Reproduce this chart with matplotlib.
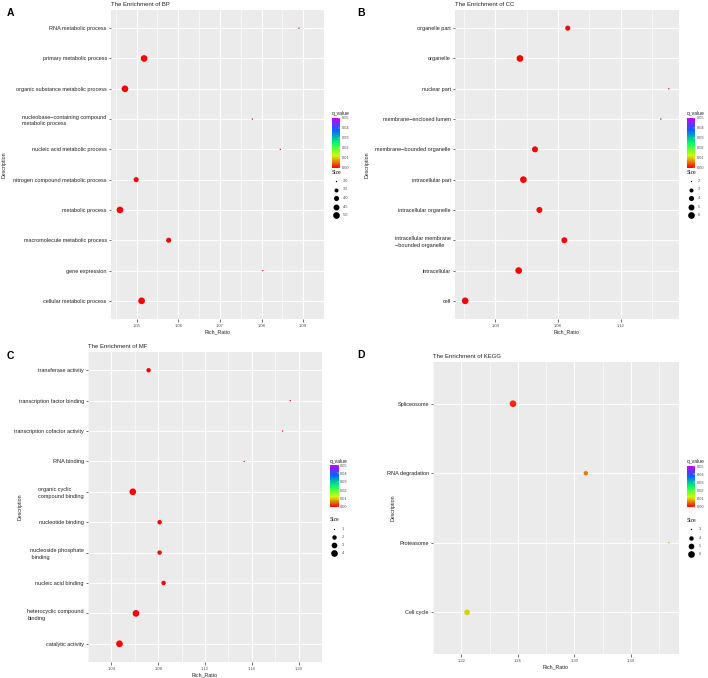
import numpy as np
import matplotlib
matplotlib.use("Agg")
import matplotlib.pyplot as plt
from matplotlib.colors import LinearSegmentedColormap, Normalize
from matplotlib.colorbar import ColorbarBase

plt.rcParams['font.family'] = ['Liberation Sans', 'DejaVu Sans']

# ---------------- data ----------------
bp_terms = ["RNA metabolic process", "primary metabolic process",
            "organic substance metabolic process",
            "nucleobase\u2212containing compound\nmetabolic process",
            "nucleic acid metabolic process", "nitrogen compound metabolic process",
            "metabolic process", "macromolecule metabolic process",
            "gene expression", "cellular metabolic process"]
bp_ratio = [1.0890, 1.0518, 1.0472, 1.0778, 1.0845, 1.0499, 1.0460, 1.0577, 1.0803, 1.0512]
bp_size = [3, 5, 5, 3, 3, 4, 5, 4, 3, 5]
bp_q = [0.0004, 0.0, 0.0, 0.0004, 0.0004, 0.0, 0.0, 0.0, 0.0004, 0.0]

cc_terms = ["organelle part", "organelle", "nuclear part", "membrane\u2212enclosed lumen",
            "membrane\u2212bounded organelle", "intracellular part",
            "intracellular organelle", "intracellular membrane\n\u2212bounded organelle",
            "intracellular", "cell"]
cc_ratio = [1.0862, 1.0557, 1.1506, 1.1455, 1.0653, 1.0579, 1.0681, 1.0840, 1.0549, 1.0208]
cc_size = [4, 6, 2, 2, 5, 6, 5, 5, 6, 6]
cc_q = [0.0, 0.0, 0.0004, 0.0004, 0.0, 0.0, 0.0, 0.0, 0.0, 0.0]

mf_terms = ["transferase activity", "transcription factor binding",
            "transcription cofactor activity", "RNA binding",
            "organic cyclic\ncompound binding", "nucleotide binding",
            "nucleoside phosphate\n binding", "nucleic acid binding",
            "heterocyclic compound\nbinding", "catalytic activity"]
mf_ratio = [1.0718, 1.1929, 1.1863, 1.1535, 1.0583, 1.0812, 1.0812, 1.0846, 1.0610, 1.0469]
mf_size = [2, 1, 1, 1, 4, 2, 2, 2, 4, 4]
mf_q = [0.0, 0.0004, 0.0004, 0.0008, 0.0, 0.0, 0.0, 0.0, 0.0, 0.0]

kegg_terms = ["Spliceosome", "RNA degradation", "Proteasome", "Cell cycle"]
kegg_ratio = [1.2566, 1.3081, 1.3669, 1.2241]
kegg_size = [6, 4, 3, 5]
kegg_q = [0.0022, 0.0060, 0.0070, 0.0105]

bp_xticks = [1.05, 1.06, 1.07, 1.08, 1.09]
cc_xticks = [1.04, 1.08, 1.12]
mf_xticks = [1.04, 1.08, 1.12, 1.16, 1.20]
kegg_xticks = [1.22, 1.26, 1.30, 1.34]

bp_size_breaks = [3.0, 3.5, 4.0, 4.5, 5.0]
cc_size_breaks = [2, 3, 4, 5, 6]
mf_size_breaks = [1, 2, 3, 4]
kegg_size_breaks = [3, 4, 5, 6]

q_breaks = [0.00, 0.01, 0.02, 0.03, 0.04, 0.05]

# ---------------- style ----------------
W, H = 708, 678
fig = plt.figure(figsize=(W / 100, H / 100), dpi=100)
cmap = LinearSegmentedColormap.from_list(
    "rb", ["#FF0000", "#CCFF00", "#00FF66", "#0066FF", "#CC00FF"])
norm = Normalize(0, 0.05)
TXT = "#4D4D4D"


def fr(x0, y0, x1, y1):
    return [x0 / W, 1 - y1 / H, (x1 - x0) / W, (y1 - y0) / H]


def diam(v, vmin, vmax):
    t = (v - vmin) / (vmax - vmin)
    return 1.0 + 3.8 * np.sqrt(np.clip(t, 0, 1))


def panel(box, terms, ratio, size, q, xticks, fmt, title, letter, letter_xy,
          ylab_x, cb_box, size_title_y, size_ys, dot_x, lab_x, breaks, bfmt):
    ax = fig.add_axes(fr(*box))
    n = len(terms)
    ys = np.arange(n)[::-1] + 1
    smin, smax = min(breaks), max(breaks)
    d = np.array([diam(v, smin, smax) for v in size])
    ax.set_facecolor("#EBEBEB")
    ax.scatter(ratio, ys, s=d ** 2, c=q, cmap=cmap, norm=norm, linewidths=0, zorder=3)
    lo, hi = min(ratio), max(ratio)
    pad = (hi - lo) * 0.05
    ax.set_xlim(lo - pad, hi + pad)
    ax.set_ylim(0.4, n + 0.6)
    ax.set_xticks(xticks)
    ax.set_xticklabels([fmt.format(t) for t in xticks])
    step = xticks[1] - xticks[0]
    minors = np.arange(xticks[0] - step / 2, xticks[-1] + step, step)
    ax.set_xticks(minors, minor=True)
    ax.tick_params(axis='x', which='minor', length=0)
    ax.set_yticks(ys)
    ax.set_yticklabels(terms)
    for lab in ax.get_yticklabels():
        lab.set_multialignment('left')
        lab.set_linespacing(1.45)
    ax.grid(True, which='major', color='white', lw=0.8, zorder=0)
    ax.grid(True, which='minor', axis='x', color='white', lw=0.4, zorder=0)
    ax.set_axisbelow(True)
    for sp in ax.spines.values():
        sp.set_visible(False)
    ax.tick_params(axis='x', which='major', labelsize=3.0, length=1.8, width=0.5,
                   color='#333333', labelcolor=TXT, pad=1.5)
    ax.tick_params(axis='y', labelsize=4.0, length=1.8, width=0.5,
                   color='#333333', labelcolor='#222222', pad=1.2)
    ax.set_xlabel("Rich_Ratio", fontsize=3.8, color='#222222', labelpad=1.5)
    fig.text(box[0] / W, 1 - (box[1] - 3.5) / H, title, fontsize=4.3,
             color='#222222', ha='left', va='bottom')
    fig.text(letter_xy[0] / W, 1 - letter_xy[1] / H, letter, fontsize=7.5,
             fontweight='bold', ha='left', va='center')
    fig.text(ylab_x / W, 1 - (box[1] + box[3]) / 2 / H, "Description", fontsize=3.8,
             rotation=90, ha='center', va='center', color='#222222')
    # colour bar legend
    cx0, cy0, cx1, cy1 = cb_box
    fig.text(cx0 / W, 1 - (cy0 - 1.5) / H, "q_value", fontsize=3.6,
             ha='left', va='bottom', color='#222222')
    cax = fig.add_axes(fr(cx0, cy0, cx1, cy1))
    cb = ColorbarBase(cax, cmap=cmap, norm=norm, orientation='vertical',
                      ticks=q_breaks)
    cb.outline.set_visible(False)
    cax.tick_params(labelsize=2.8, length=1.2, width=0.3, color='white',
                    labelcolor=TXT, pad=1.0, direction='in')
    cax.set_yticklabels(["{:.2f}".format(v) for v in q_breaks])
    # size legend
    fig.text(cx0 / W, 1 - size_title_y / H, "Size", fontsize=3.6,
             ha='left', va='center', color='#222222')
    lax = fig.add_axes([0, 0, 1, 1], facecolor='none')
    lax.set_xlim(0, W)
    lax.set_ylim(H, 0)
    lax.axis('off')
    for b, yy in zip(breaks, size_ys):
        dd = diam(b, smin, smax)
        lax.scatter([dot_x], [yy], s=dd ** 2, c='black', linewidths=0)
        lax.text(lab_x, yy, bfmt.format(b), fontsize=2.8, color=TXT,
                 ha='left', va='center')
    return ax


panel((111, 10, 324, 319), bp_terms, bp_ratio, bp_size, bp_q, bp_xticks, "{:.2f}",
      "The Enrichment of BP", "A", (7, 13), 4, (331.5, 118, 340, 168),
      173, [181, 189.5, 198, 206.5, 215], 335.5, 342.5, bp_size_breaks, "{:.1f}")
panel((455, 10, 679, 319), cc_terms, cc_ratio, cc_size, cc_q, cc_xticks, "{:.2f}",
      "The Enrichment of CC", "B", (357, 13), 367, (686.5, 118, 695, 168),
      173, [181, 189.5, 198, 206.5, 215], 690.5, 698, cc_size_breaks, "{}")
panel((88, 352, 322, 662), mf_terms, mf_ratio, mf_size, mf_q, mf_xticks, "{:.2f}",
      "The Enrichment of MF", "C", (7, 356), 20, (330, 465, 338.5, 507),
      519.5, [528.7, 536.7, 544.7, 552.7], 334.3, 341.5, mf_size_breaks, "{}")
panel((433, 362, 679, 654), kegg_terms, kegg_ratio, kegg_size, kegg_q, kegg_xticks, "{:.2f}",
      "The Enrichment of KEGG", "D", (357, 354.5), 393, (686.5, 466, 695, 507),
      520.5, [529.3, 537.7, 546, 554], 691, 699, kegg_size_breaks, "{}")

fig.savefig("out.png", dpi=100)
